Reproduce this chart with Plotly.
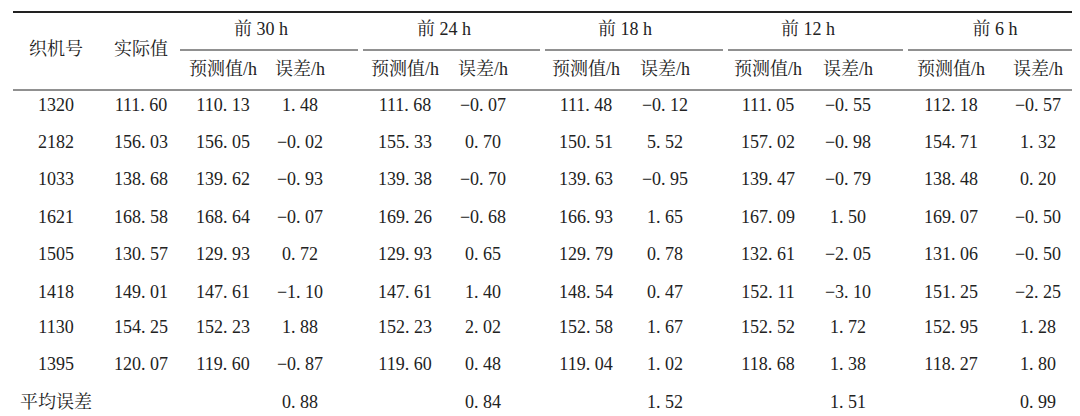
import plotly.graph_objects as go

# data
machines = ['1320', '2182', '1033', '1621', '1505', '1418', '1130', '1395']
actual = [111.60, 156.03, 138.68, 168.58, 130.57, 149.01, 154.25, 120.07]
horizons = ['前 30 h', '前 24 h', '前 18 h', '前 12 h', '前 6 h']
pred = [
    [110.13, 156.05, 139.62, 168.64, 129.93, 147.61, 152.23, 119.60],
    [111.68, 155.33, 139.38, 169.26, 129.93, 147.61, 152.23, 119.60],
    [111.48, 150.51, 139.63, 166.93, 129.79, 148.54, 152.58, 119.04],
    [111.05, 157.02, 139.47, 167.09, 132.61, 152.11, 152.52, 118.68],
    [112.18, 154.71, 138.48, 169.07, 131.06, 151.25, 152.95, 118.27],
]
err = [
    [1.48, -0.02, -0.93, -0.07, 0.72, -1.10, 1.88, -0.87],
    [-0.07, 0.70, -0.70, -0.68, 0.65, 1.40, 2.02, 0.48],
    [-0.12, 5.52, -0.95, 1.65, 0.78, 0.47, 1.67, 1.02],
    [-0.55, -0.98, -0.79, 1.50, -2.05, -3.10, 1.72, 1.38],
    [-0.57, 1.32, 0.20, -0.50, -0.50, -2.25, 1.28, 1.80],
]
mean_err = [0.88, 0.84, 1.52, 1.51, 0.99]

# layout positions (pixels)
col_x = [48, 133, 215, 292, 397, 475, 578, 657, 760, 840, 943, 1030]
group_x = [253, 436, 617, 800, 987]
group_span = [(172, 350), (355, 532), (537, 715), (720, 895), (900, 1075)]
row_y = [98, 135, 172, 210, 247, 285, 320, 357]
avg_y = 395
FONT = 'Liberation Serif, Noto Serif CJK SC, Noto Sans CJK SC'
CLR = '#222222'
FS = 18


def fmt(v):
    s = f'{abs(v):.2f}'.replace('.', '. ')
    return ('−' + s) if v < 0 else s


xs, ys, ts = [], [], []
for i, m in enumerate(machines):
    row = [m, fmt(actual[i])]
    for g in range(5):
        row += [fmt(pred[g][i]), fmt(err[g][i])]
    for j, t in enumerate(row):
        xs.append(col_x[j]); ys.append(row_y[i]); ts.append(t)
for g in range(5):
    xs.append(col_x[3 + 2 * g]); ys.append(avg_y); ts.append(fmt(mean_err[g]))

fig = go.Figure()
fig.add_trace(go.Scatter(x=xs, y=ys, text=ts, mode='text',
                         textfont=dict(family=FONT, size=FS, color=CLR),
                         hoverinfo='skip', cliponaxis=False))

# header text
hx = [48, 133] + group_x + [c for g in range(5) for c in (col_x[2 + 2 * g], col_x[3 + 2 * g])]
hy = [42, 42] + [22] * 5 + [62] * 10
ht = ['织机号', '实际值'] + horizons + ['预测值/h', '误差/h'] * 5
fig.add_trace(go.Scatter(x=hx, y=hy, text=ht, mode='text',
                         textfont=dict(family=FONT, size=FS, color=CLR),
                         hoverinfo='skip', cliponaxis=False))
fig.add_trace(go.Scatter(x=[48], y=[avg_y], text=['平均误差'], mode='text',
                         textfont=dict(family=FONT, size=FS, color=CLR),
                         hoverinfo='skip', cliponaxis=False))

# rules
fig.add_shape(type='line', x0=5, x1=1075, y0=4, y1=4, line=dict(color=CLR, width=2))
fig.add_shape(type='line', x0=5, x1=1075, y0=82, y1=82, line=dict(color=CLR, width=1))
fig.add_shape(type='line', x0=5, x1=1075, y0=412, y1=412, line=dict(color=CLR, width=2))
for a, b in group_span:
    fig.add_shape(type='line', x0=a, x1=b, y0=42, y1=42, line=dict(color=CLR, width=1))

fig.update_layout(
    width=1080, height=416, margin=dict(l=0, r=0, t=0, b=0),
    plot_bgcolor='white', paper_bgcolor='white', showlegend=False,
    xaxis=dict(range=[0, 1080], visible=False, fixedrange=True),
    yaxis=dict(range=[416, 0], visible=False, fixedrange=True),
)

fig.write_html('out.html')
